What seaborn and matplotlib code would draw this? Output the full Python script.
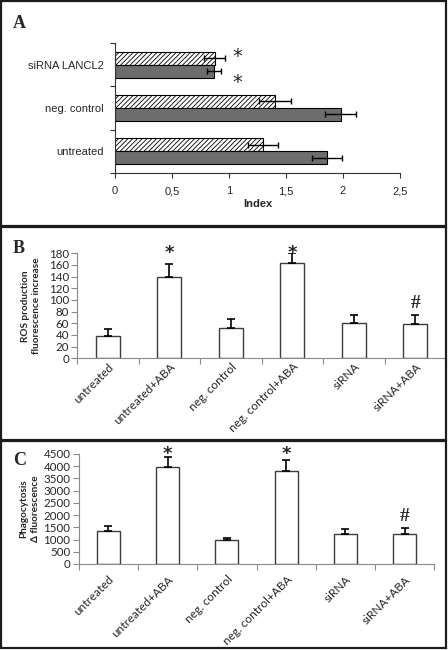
import numpy as np
import pandas as pd
import matplotlib
matplotlib.use('Agg')
import matplotlib.pyplot as plt
import seaborn as sns
from matplotlib.patches import Rectangle

# ---- panel A data (top to bottom as drawn) ----
groups_a = ['siRNA LANCL2', 'neg. control', 'untreated']
series_a = ['striped', 'filled']
striped_vals = [0.875, 1.40, 1.30]
striped_err = [0.09, 0.14, 0.13]
filled_vals = [0.87, 1.98, 1.86]
filled_err = [0.06, 0.135, 0.13]
xticks_a = [0, 0.5, 1, 1.5, 2, 2.5]
xticklabels_a = ['0', '0,5', '1', '1,5', '2', '2,5']
starred_group_a = 'siRNA LANCL2'

# ---- panels B and C data ----
cats = ['untreated', 'untreated+ABA', 'neg. control', 'neg. control+ABA', 'siRNA', 'siRNA+ABA']
ros_vals = [38, 140, 52, 163, 60, 58]
ros_err = [12, 21, 16, 17, 15, 17]
phago_vals = [1350, 3980, 970, 3815, 1215, 1240]
phago_err = [200, 410, 100, 460, 200, 245]
marks = ['', '*', '', '*', '', '#']

sns.set_style('white')
plt.rcParams['hatch.linewidth'] = 0.6
plt.rcParams['font.family'] = ['Liberation Sans', 'DejaVu Sans']

W, H = 448, 650
fig = plt.figure(figsize=(W / 100, H / 100), dpi=100)


def px_axes(left, top, right, bottom):
    return fig.add_axes([left / W, 1 - bottom / H, (right - left) / W, (bottom - top) / H])


def box(x0, y0, x1, y1):
    fig.add_artist(Rectangle((x0 / W, 1 - y1 / H), (x1 - x0) / W, (y1 - y0) / H,
                             transform=fig.transFigure, fill=False, lw=1.6, ec='#1c1c1c'))


box(1, 1, 446, 226)
box(1, 227, 446, 440)
box(1, 441, 446, 648)

letter_font = dict(family=['Liberation Serif', 'DejaVu Serif'], fontweight='bold', fontsize=13)
fig.text(13 / W, 1 - 28 / H, 'A', **letter_font)
fig.text(13 / W, 1 - 253 / H, 'B', **letter_font)
fig.text(13 / W, 1 - 465 / H, 'C', **letter_font)

# ---------------- Panel A ----------------
ax_a = px_axes(115, 43, 400, 173)
df_a = pd.DataFrame({
    'group': groups_a * 2,
    'series': ['striped'] * 3 + ['filled'] * 3,
    'value': striped_vals + filled_vals,
})
sns.barplot(data=df_a, x='value', y='group', hue='series', order=groups_a,
            hue_order=series_a, palette={'striped': 'white', 'filled': '#6d6d6d'},
            edgecolor='black', linewidth=0.8, width=0.6, errorbar=None,
            legend=False, orient='h', ax=ax_a)
errs_a = striped_err + filled_err
bars_a = ax_a.patches[:6]
for i, p in enumerate(bars_a):
    if i < 3:
        p.set_hatch('///////')
    yc = p.get_y() + p.get_height() / 2
    ax_a.errorbar(p.get_width(), yc, xerr=errs_a[i], fmt='none', ecolor='black',
                  elinewidth=1, capsize=2.5, capthick=1)

# stars next to the siRNA pair
gi = groups_a.index(starred_group_a)
star_x = max(striped_vals[gi] + striped_err[gi], filled_vals[gi] + filled_err[gi])
for p, dy in [(bars_a[gi], 1), (bars_a[3 + gi], -8)]:
    yc = p.get_y() + p.get_height() / 2
    ax_a.annotate('*', (star_x, yc), xytext=(9, dy), textcoords='offset points',
                  ha='center', va='center', fontsize=14, family=['DejaVu Sans'],
                  annotation_clip=False)

ax_a.set_xlim(0, 2.5)
ax_a.set_ylim(2.5, -0.5)
ax_a.set_xticks(xticks_a, xticklabels_a)
ax_a.set_yticks(range(3), groups_a)
ax_a.set_yticks([-0.5, 0.5, 1.5, 2.5], minor=True)
ax_a.tick_params(axis='y', which='major', length=0, pad=8, labelsize=8)
ax_a.tick_params(axis='y', which='minor', length=3.5, width=0.8, color='#333333', direction='out', left=True)
ax_a.tick_params(axis='x', length=3.5, width=0.8, color='#333333', direction='out', bottom=True,
                 labelsize=8, pad=6)
for lab in ax_a.get_xticklabels() + ax_a.get_yticklabels():
    lab.set_family(['Liberation Sans', 'DejaVu Sans'])
ax_a.set_xlabel('Index', fontweight='bold', fontsize=8, labelpad=2,
                family=['Liberation Sans', 'DejaVu Sans'])
ax_a.set_ylabel('')
for s in ['top', 'right']:
    ax_a.spines[s].set_visible(False)
for s in ['left', 'bottom']:
    ax_a.spines[s].set_color('#333333')
    ax_a.spines[s].set_linewidth(0.8)


# ---------------- Panels B & C ----------------
def column_panel(ax, vals, errs, top, step, ylabel, label_x, rot_pad):
    df = pd.DataFrame({'cat': cats, 'val': vals})
    sns.barplot(data=df, x='cat', y='val', color='white', edgecolor='#3c3c3c',
                linewidth=1, width=0.39, errorbar=None, ax=ax)
    for p in ax.patches:
        p.set_facecolor('white')
    pos = np.arange(len(cats))
    ax.errorbar(pos, vals, yerr=[np.zeros(len(vals)), errs], fmt='none', ecolor='black',
                elinewidth=1.2, capsize=3, capthick=1.2)
    for i, m in enumerate(marks):
        if m == '*':
            ax.annotate('*', (i, 1.0), xycoords=('data', 'axes fraction'), xytext=(0, 0),
                        textcoords='offset points', ha='center', va='center',
                        fontsize=13, fontweight='bold', annotation_clip=False,
                        family=['DejaVu Sans'])
        elif m == '#':
            ax.annotate('#', (i, vals[i] + errs[i]), xytext=(0, 8), textcoords='offset points',
                        ha='center', va='center', fontsize=14, fontweight='bold',
                        family=['Liberation Serif', 'DejaVu Serif'], annotation_clip=False)
    ax.set_xlim(-0.5, len(cats) - 0.5)
    ax.set_ylim(0, top)
    ax.set_yticks(np.arange(0, top + step / 2, step))
    ax.set_xticks(pos, cats, rotation=45, ha='right', rotation_mode='anchor')
    ax.set_xticks(np.arange(-0.5, len(cats)), minor=True)
    ax.tick_params(axis='x', which='major', length=0, pad=rot_pad, labelsize=8.5)
    ax.tick_params(axis='x', which='minor', length=4, width=0.8, color='#8a8a8a',
                   direction='out', bottom=True)
    ax.tick_params(axis='y', length=4, width=0.8, color='#8a8a8a', direction='out',
                   left=True, labelsize=8.3, pad=2)
    for lab in ax.get_xticklabels() + ax.get_yticklabels():
        lab.set_family(['Lato', 'DejaVu Sans'])
    ax.set_xlabel('')
    ax.set_ylabel(ylabel, fontweight='bold', fontsize=7.2, family=['Lato', 'DejaVu Sans'],
                  linespacing=1.3)
    ax.yaxis.set_label_coords(label_x, 0.5)
    for s in ['top', 'right']:
        ax.spines[s].set_visible(False)
    for s in ['left', 'bottom']:
        ax.spines[s].set_color('#8a8a8a')
        ax.spines[s].set_linewidth(0.8)


ax_b = px_axes(77.3, 253.3, 446, 358.3)
column_panel(ax_b, ros_vals, ros_err, 180, 20,
             'ROS production\nfluorescence increase', -0.098, 2)

ax_c = px_axes(78.7, 454, 434.3, 564)
column_panel(ax_c, phago_vals, phago_err, 4500, 500,
             'Phagocytosis\n\u0394 fluorescence', -0.11, 7)

fig.savefig('out.png', dpi=100)
